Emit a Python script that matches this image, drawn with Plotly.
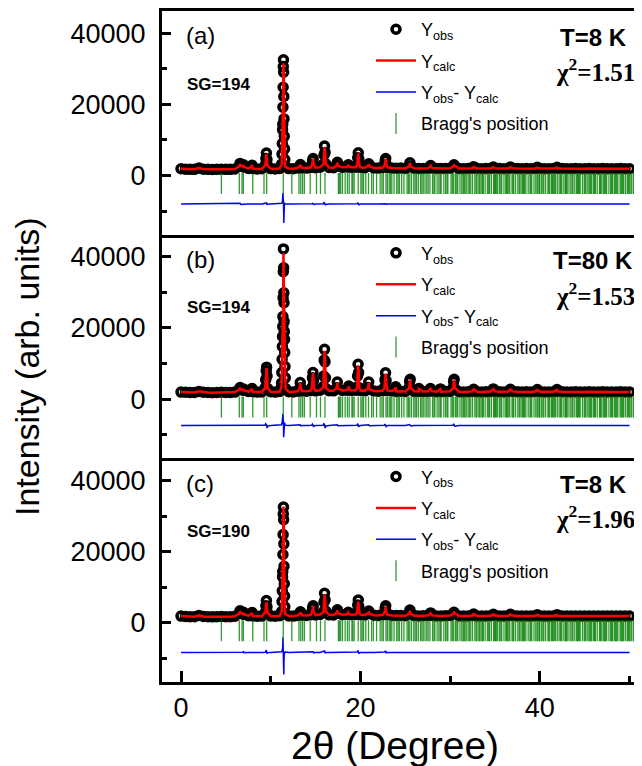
import pandas as pd
import plotly.graph_objects as go
from plotly.subplots import make_subplots

# ------------------------------------------------------------------ data
# background points (2theta, degrees) shared by all patterns
base_2theta = [0.0, 0.5, 1.0, 1.5, 2.0, 2.5, 3.0, 3.5, 4.0, 4.5, 5.0, 5.5, 6.0,
               7.5, 8.0, 8.5, 9.0,
               10.0, 10.5, 11.0,
               12.0, 12.5, 13.0, 13.5, 14.0, 14.5, 15.0, 15.5,
               16.5, 17.0,
               18.0, 18.5, 19.0, 19.5, 20.0, 20.5,
               21.5, 22.0, 22.5, 23.0, 23.5, 24.0, 24.5, 25.0,
               26.0, 26.5, 27.0, 27.5, 28.0, 28.5, 29.0, 29.5, 30.0,
               31.0, 31.5, 32.0, 32.5, 33.0, 33.5, 34.0, 34.5, 35.0, 35.5,
               36.0, 36.5, 37.0, 37.5, 38.0, 38.5, 39.0, 39.5, 40.0, 40.5,
               41.0, 41.5, 42.0, 42.5, 43.0, 43.5, 44.0, 44.5, 45.0, 45.5,
               46.0, 46.5, 47.0, 47.5, 48.0, 48.5, 49.0, 49.5, 50.0]

base_obs_8K = [1900, 1800, 1750, 1750, 2100, 1800, 1750, 1700, 1750, 1800, 1750, 1750, 1850,
               2000, 1950, 1850, 1900,
               1950, 1850, 2000,
               1950, 1900, 2100, 2150, 2100, 2300, 2200, 2350,
               2250, 2200,
               2300, 2400, 2300, 2350, 2300, 2200,
               2150, 2100, 2250, 2300, 2100, 2050, 2100, 2000,
               2050, 1950, 2000, 2050, 2100, 1950, 1950, 2000, 2050,
               1950, 1900, 1950, 2050, 1950, 1900, 1950, 2000, 2050, 1950,
               1900, 2000, 2050, 1950, 1900, 1950, 1900, 2000, 1950, 1900,
               1900, 1950, 2000, 1950, 1900, 1900, 1950, 1900, 1900, 1950,
               1900, 1900, 1950, 1900, 1900, 1900, 1950, 1900, 1900]

base_obs_80K = [2000, 1950, 1900, 1900, 2200, 1950, 1900, 1850, 1900, 1950, 1900, 1900, 2000,
                2150, 2100, 2000, 2050,
                2100, 2000, 2150,
                2100, 2050, 2250, 2300, 2250, 2450, 2350, 2500,
                2400, 2350,
                2450, 2550, 2450, 2500, 2450, 2350,
                2300, 2250, 2400, 2450, 2300, 2200, 2250, 2150,
                2200, 2150, 2150, 2200, 2250, 2100, 2100, 2150, 2200,
                2100, 2050, 2100, 2200, 2100, 2050, 2100, 2150, 2200, 2100,
                2050, 2150, 2200, 2100, 2050, 2100, 2050, 2150, 2100, 2050,
                2050, 2100, 2150, 2100, 2050, 2050, 2100, 2050, 2050, 2100,
                2050, 2050, 2100, 2050, 2050, 2050, 2100, 2050, 2050]

# reflection profile points, T = 8 K
peak_2theta_8K = [6.50, 6.58, 6.66, 6.90, 6.96, 7.02, 7.85, 7.92, 7.99,
                  9.40, 9.46, 9.52, 9.58, 9.65,
                  11.22, 11.26, 11.29, 11.32, 11.34, 11.36, 11.38, 11.40, 11.42, 11.44,
                  11.46, 11.48, 11.51, 11.54, 11.57, 11.61,
                  13.24, 13.31, 13.38, 14.60, 14.67, 14.73, 14.80,
                  15.88, 15.94, 16.00, 16.06, 16.13,
                  17.36, 17.43, 17.50, 18.58, 18.65, 18.72,
                  19.64, 19.70, 19.76, 19.82, 19.89,
                  20.86, 20.93, 21.00, 22.70, 22.76, 22.82, 22.89,
                  25.45, 25.52, 25.59,
                  27.76, 27.83, 30.36, 30.43,
                  32.62, 34.82, 36.72, 39.72, 41.92]
peak_obs_8K = [2600, 3400, 2700, 2500, 3000, 2400, 2500, 2900, 2300,
               3000, 4800, 6300, 4500, 2800,
               3200, 6000, 9000, 12900, 14400, 19200, 24800, 30600, 32500, 29000,
               22200, 15900, 11000, 7500, 4500, 2600,
               2600, 3100, 2500, 3000, 4200, 4800, 3000,
               3200, 5800, 8300, 6500, 3300,
               2900, 3700, 2700, 2700, 3000, 2500,
               3100, 5000, 6400, 4600, 2900,
               2800, 3300, 2600, 3000, 4200, 4800, 3000,
               2700, 3600, 2500,
               2500, 2800, 2600, 3000,
               2500, 2400, 2400, 2300, 2300]
peak_calc_8K_sg194 = [2600, 3200, 2800, 2500, 2900, 2450, 2450, 2950, 2350,
                      2900, 4500, 6000, 4700, 2800,
                      3000, 5600, 8600, 11900, 12800, 16100, 22500, 29500, 31500, 31000,
                      27500, 18500, 11800, 7400, 4300, 2500,
                      2550, 3000, 2550, 2900, 4000, 4700, 3100,
                      3100, 5400, 8000, 6800, 3400,
                      2850, 3600, 2750, 2650, 2950, 2550,
                      3000, 4700, 6200, 4800, 2900,
                      2750, 3200, 2600, 2900, 4000, 4700, 3100,
                      2650, 3500, 2550,
                      2450, 2750, 2550, 2900,
                      2450, 2350, 2350, 2250, 2250]
peak_calc_8K_sg190 = [2600, 3250, 2750, 2450, 2800, 2450, 2450, 2850, 2300,
                      2950, 4400, 5800, 4800, 2850,
                      3000, 5500, 8500, 11800, 12900, 15000, 22800, 30000, 32700, 31200,
                      28400, 18000, 11600, 7300, 4300, 2500,
                      2500, 2950, 2500, 2900, 4100, 4600, 3100,
                      3000, 5500, 7900, 6700, 3300,
                      2800, 3500, 2700, 2650, 2900, 2500,
                      3000, 4600, 6000, 4800, 2900,
                      2750, 3150, 2600, 2900, 3900, 4500, 3100,
                      2600, 3400, 2500,
                      2450, 2700, 2550, 2850,
                      2450, 2350, 2350, 2250, 2250]

# reflection profile points, T = 80 K
peak_2theta_80K = [6.50, 6.58, 6.66, 6.90, 6.96, 7.02, 7.85, 7.92, 7.99,
                   9.38, 9.44, 9.50, 9.54, 9.59, 9.66,
                   11.18, 11.21, 11.24, 11.27, 11.30, 11.32, 11.34, 11.36, 11.38, 11.40,
                   11.42, 11.44, 11.46, 11.48, 11.50, 11.52, 11.54, 11.56, 11.59, 11.62, 11.66,
                   13.22, 13.29, 13.36, 13.42, 14.58, 14.65, 14.71, 14.77, 14.84,
                   15.86, 15.91, 15.96, 16.00, 16.05, 16.10, 16.16,
                   17.35, 17.42, 17.49, 18.63, 18.70, 18.77,
                   19.62, 19.68, 19.74, 19.80, 19.87,
                   20.85, 20.92, 20.99, 22.68, 22.74, 22.80, 22.86, 22.93, 23.86, 23.93,
                   25.42, 25.49, 25.55, 25.62, 26.52, 27.80, 28.92,
                   30.32, 30.39, 30.45, 30.52, 32.62, 34.82, 36.72, 39.72, 41.92]
peak_obs_80K = [2700, 3300, 2700, 2600, 2900, 2500, 2600, 3000, 2400,
                3200, 5500, 8000, 9000, 6500, 3000,
                3200, 4500, 7500, 11200, 14800, 17600, 20400, 23200, 28500, 35800,
                42200, 36900, 29900, 27100, 21800, 19000, 16800, 13100, 9200, 6000, 3000,
                3000, 4700, 3200, 2400, 3300, 6000, 7500, 5200, 2900,
                3500, 6500, 11000, 14000, 10500, 6000, 3000,
                3200, 4800, 3000, 3000, 3700, 2700,
                3400, 6500, 9800, 7500, 3200,
                3300, 4800, 2800, 3300, 5500, 7400, 5200, 2900, 2900, 3500,
                3200, 5000, 5600, 3000, 3000, 3000, 2900,
                3200, 5000, 5600, 3000, 2800, 2900, 2800, 2700, 2700]
peak_calc_80K = [2700, 3200, 2750, 2550, 2850, 2500, 2550, 2950, 2450,
                 3100, 5000, 7600, 8800, 7200, 3100,
                 3100, 4300, 7000, 10500, 13400, 15500, 17800, 19900, 26000, 34500,
                 41000, 40200, 32500, 28000, 22000, 18600, 16000, 12500, 8800, 5800, 2900,
                 2900, 4500, 3300, 2450, 3200, 5600, 7300, 5600, 3000,
                 3400, 6000, 10500, 13600, 11200, 6300, 3100,
                 3100, 4600, 3050, 2950, 3600, 2750,
                 3300, 6000, 9500, 7900, 3300,
                 3200, 4600, 2850, 3200, 5100, 7200, 5500, 3000, 2850, 3400,
                 3100, 4700, 5500, 3100, 2950, 2950, 2850,
                 3100, 4500, 5500, 3200, 2750, 2850, 2750, 2650, 2650]

# Bragg reflection positions (2theta)
bragg_2theta = [4.5, 6.5, 6.8, 6.95, 8.0, 9.25, 9.55, 11.4, 12.35, 13.15, 13.35, 13.55,
                13.75, 14.4, 15.1, 15.55, 16.05,
                17.55, 17.8, 18.0, 18.3, 18.55, 18.75, 19.05, 19.3, 19.75, 20.05, 20.35,
                20.6, 20.9, 21.25, 21.8, 22.2, 22.55, 22.85, 23.0, 23.2, 23.5, 23.75,
                24.05, 24.35, 24.6, 24.85, 25.2, 25.5, 25.7, 25.95, 26.25, 26.45, 26.7,
                27.0, 27.2, 27.4, 27.75, 28.05, 28.3, 28.55, 28.75, 29.0, 29.3, 29.5,
                29.75, 30.1, 30.4, 30.6, 30.85, 31.1, 31.3, 31.55, 31.8, 32.0, 32.3,
                32.5, 32.75, 33.0, 33.2, 33.45, 33.7, 33.9, 34.15, 34.4, 34.6, 34.85,
                35.05, 35.3, 35.5, 35.75, 36.0, 36.2, 36.4, 36.65, 36.9, 37.1, 37.3,
                37.55, 37.8, 38.0, 38.2, 38.45, 38.7, 38.9, 39.1, 39.35, 39.55, 39.8,
                40.0, 40.2, 40.45, 40.65, 40.9, 41.1, 41.3, 41.5, 41.75, 41.95, 42.15,
                42.4, 42.6, 42.8, 43.05, 43.25, 43.45, 43.7, 43.9, 44.1, 44.3, 44.5,
                44.75, 44.95, 45.15, 45.35, 45.6, 45.8, 46.0, 46.2, 46.4, 46.65, 46.85,
                47.05, 47.25, 47.45, 47.7, 47.9, 48.1, 48.3, 48.5, 48.7, 48.95, 49.15,
                49.35, 49.55, 49.75, 49.95, 50.2, 50.4, 50.6, 50.85,
                31.65, 33.3, 35.15, 36.55, 38.1, 39.95, 41.4, 42.95, 44.2, 45.7, 47.15,
                48.4, 49.05, 50.05,
                17.65, 19.15, 20.2, 21.45, 22.4, 23.35, 24.2, 25.35, 26.1, 26.85,
                27.55, 28.2, 28.9, 29.65, 30.25, 30.75, 31.45, 32.15, 32.9, 33.6,
                34.3, 34.95, 35.65, 36.3, 37.0, 37.7, 38.3, 39.0, 39.7, 40.35, 41.0,
                41.65, 42.3, 42.9, 43.6, 44.4, 45.05, 45.5, 46.1, 46.75, 47.35, 48.0,
                48.6, 49.25, 49.85, 50.5, 50.95]

panel_tags = ["(a)", "(b)", "(c)"]
space_groups = ["SG=194", "SG=194", "SG=190"]
temperatures = ["T=8 K", "T=80 K", "T=8 K"]
chi2_values = ["1.51", "1.53", "1.96"]

y_ticks = [0, 20000, 40000]
y_minor = [-10000, 10000, 30000]
x_ticks = [0, 20, 40]
x_minor = [10, 30, 50]

# ------------------------------------------------------------------ build
def pattern(base_obs, pk_x, pk_obs, pk_calc):
    bg = pd.DataFrame({"x": base_2theta, "obs": base_obs, "calc": base_obs})
    pk = pd.DataFrame({"x": pk_x, "obs": pk_obs, "calc": pk_calc})
    df = pd.concat([bg, pk]).sort_values("x").reset_index(drop=True)
    df["diff"] = df["obs"] - df["calc"]
    return df

patterns = [
    pattern(base_obs_8K, peak_2theta_8K, peak_obs_8K, peak_calc_8K_sg194),
    pattern(base_obs_80K, peak_2theta_80K, peak_obs_80K, peak_calc_80K),
    pattern(base_obs_8K, peak_2theta_8K, peak_obs_8K, peak_calc_8K_sg190),
]
diff_offsets = [-8000, -7400, -8300]
bragg_level = -2200

# page offset produced by the default 8px body margin
OFF = 8
W, H = 642 - OFF, 766 - OFF
ML, MR, MT, MB = 162 - OFF, 0, 11 - OFF, 84
PW, PH = W - ML - MR, H - MT - MB
XR = [-2.12, 51.39]
YR = [-16600, 46200]
SANS = "Liberation Sans, Arial, sans-serif"
SERIF = "Liberation Serif, Times New Roman, serif"


def pxx(xp):
    """page pixel x -> paper fraction"""
    return (xp - OFF - ML) / PW


def pxy(yp):
    """page pixel y -> paper fraction"""
    return (H - MB - (yp - OFF)) / PH


fig = make_subplots(rows=3, cols=1, shared_xaxes=True, vertical_spacing=0)

legend_keys = ["legend", "legend2", "legend3"]
annotations = []
for i, df in enumerate(patterns):
    row = i + 1
    leg = legend_keys[i]
    top = 11 + i * PH / 3.0          # page y of panel top
    fig.add_trace(go.Scatter(
        x=df["x"], y=df["obs"], mode="markers", name="Y<sub>obs</sub>",
        marker=dict(symbol="circle-open", size=8, color="black",
                    line=dict(width=3.5, color="black")),
        legend=leg, legendgroup="obs%d" % i), row=row, col=1)
    fig.add_trace(go.Scatter(
        x=df["x"], y=df["calc"], mode="lines", name="Y<sub>calc</sub>",
        line=dict(color="#ff0000", width=2.5),
        legend=leg, legendgroup="calc%d" % i), row=row, col=1)
    fig.add_trace(go.Scatter(
        x=df["x"], y=df["diff"] + diff_offsets[i], mode="lines",
        name="Y<sub>obs</sub>- Y<sub>calc</sub>",
        line=dict(color="#0000ff", width=1.5),
        legend=leg, legendgroup="diff%d" % i), row=row, col=1)
    fig.add_trace(go.Scatter(
        x=bragg_2theta, y=[bragg_level] * len(bragg_2theta), mode="markers",
        name="Bragg's position",
        marker=dict(symbol="line-ns", size=15,
                    line=dict(width=1.3, color="rgba(0,128,0,0.8)")),
        legend=leg, legendgroup="bragg%d" % i), row=row, col=1)

    fig.update_layout(**{leg: dict(
        x=pxx(371), y=pxy(top), xanchor="left", yanchor="top",
        bgcolor="rgba(0,0,0,0)", borderwidth=0,
        font=dict(family=SANS, size=18, color="black"),
        itemwidth=40, traceorder="grouped", tracegroupgap=5)})

    annotations += [
        dict(text=panel_tags[i], x=pxx(184), y=pxy(top + 25), xanchor="left",
             yanchor="middle", showarrow=False, xref="paper", yref="paper",
             font=dict(family=SANS, size=24, color="black")),
        dict(text="<b>%s</b>" % space_groups[i], x=pxx(185), y=pxy(top + 73),
             xanchor="left", yanchor="middle", showarrow=False,
             xref="paper", yref="paper",
             font=dict(family=SANS, size=17, color="black")),
        dict(text="<b>%s</b>" % temperatures[i], x=pxx(593), y=pxy(top + 26),
             xanchor="center", yanchor="middle", showarrow=False,
             xref="paper", yref="paper",
             font=dict(family=SANS, size=24, color="black")),
        dict(text="<b>χ<sup>2</sup>=%s</b>" % chi2_values[i], x=pxx(595),
             y=pxy(top + 59), xanchor="center", yanchor="middle", showarrow=False,
             xref="paper", yref="paper",
             font=dict(family=SERIF, size=25, color="black")),
    ]

annotations += [
    dict(text="Intensity (arb. units)", x=pxx(27), y=pxy(367), textangle=-90,
         xanchor="center", yanchor="middle", showarrow=False,
         xref="paper", yref="paper",
         font=dict(family=SANS, size=34, color="black")),
    dict(text="2θ (Degree)", x=pxx(395), y=pxy(745), xanchor="center",
         yanchor="middle", showarrow=False, xref="paper", yref="paper",
         font=dict(family=SANS, size=39, color="black")),
]

for row in (1, 2, 3):
    fig.update_yaxes(
        range=YR, tickvals=y_ticks, tickformat="d", ticks="inside", ticklen=9,
        tickwidth=2.5, tickcolor="black", showline=True, linewidth=3,
        linecolor="black", showgrid=False, zeroline=False, ticklabelstandoff=8,
        tickfont=dict(family=SANS, size=27, color="black"),
        minor=dict(tickvals=y_minor, ticks="inside", ticklen=5,
                   tickwidth=2.5, tickcolor="black"),
        row=row, col=1)
    fig.update_xaxes(
        range=XR, showline=True, linewidth=3, linecolor="black",
        mirror=(row == 1), showgrid=False, zeroline=False, row=row, col=1)

fig.update_xaxes(ticks="", showticklabels=False, row=1, col=1)
fig.update_xaxes(ticks="", showticklabels=False, row=2, col=1)
fig.update_xaxes(
    tickvals=x_ticks, ticks="inside", ticklen=11, tickwidth=2.5, tickcolor="black",
    showticklabels=True, tickfont=dict(family=SANS, size=27, color="black"),
    minor=dict(tickvals=x_minor, ticks="inside", ticklen=6, tickwidth=2.5,
               tickcolor="black"),
    row=3, col=1)

fig.update_layout(
    width=W, height=H, margin=dict(l=ML, r=MR, t=MT, b=MB),
    paper_bgcolor="white", plot_bgcolor="white",
    font=dict(family=SANS, color="black"),
    showlegend=True, annotations=annotations,
)

fig.write_html("out.html")
